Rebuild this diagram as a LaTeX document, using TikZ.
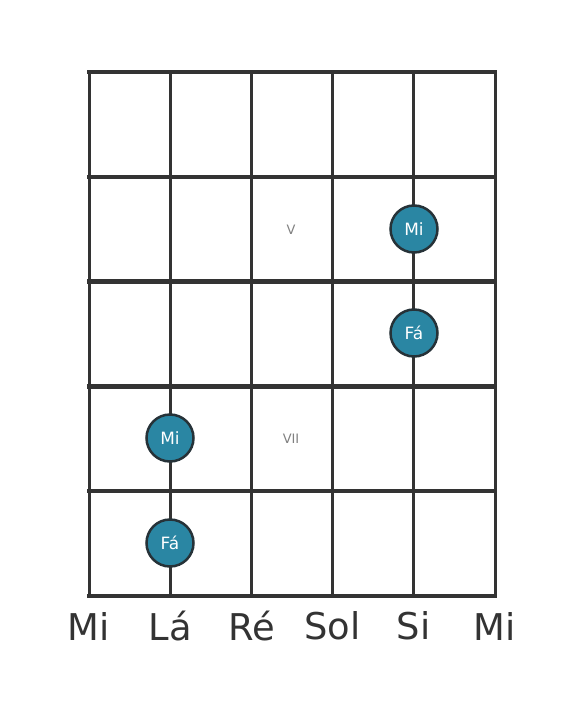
\documentclass[tikz,border=0pt]{standalone}
\usepackage{fontspec}
\setmainfont{DejaVu Sans}
\usetikzlibrary{calc}

\definecolor{GridColor}{HTML}{333333}
\definecolor{NoteFill}{HTML}{2A86A3}
\definecolor{NoteLine}{HTML}{263238}
\definecolor{FretNum}{HTML}{808080}

\tikzset{
  note/.style={circle, draw=NoteLine, line width=2.5bp, fill=NoteFill,
    minimum size=47bp, inner sep=0pt, text=white, font=\fontsize{17}{17}\selectfont},
  fretlabel/.style={text=FretNum, font=\fontsize{13}{13}\selectfont},
  stringname/.style={text=GridColor, font=\fontsize{37}{37}\selectfont}
}

\begin{document}
\begin{tikzpicture}[x=1bp,y=-1bp]
\useasboundingbox (0,0) rectangle (584,711);

\def \GridLeft {89}
\def \GridTop {72}
\def \StringGap {81.2}
\def \FretGap {104.8}

% cordes
\foreach \s in {0,...,5}{
  \coordinate (s\s top) at (\GridLeft+\s*\StringGap,\GridTop);
  \coordinate (s\s bot) at (\GridLeft+\s*\StringGap,\GridTop+5*\FretGap);
  \draw[color=GridColor, line width=3bp] (s\s top)--(s\s bot);
}
% frettes
\foreach \f in {0,...,5}{
  \coordinate (f\f left) at (\GridLeft,\GridTop+\f*\FretGap);
  \coordinate (f\f right) at (\GridLeft+5*\StringGap,\GridTop+\f*\FretGap);
  \draw[color=GridColor, line width=4.5bp, line cap=rect] (f\f left)--(f\f right);
}

% numeros de case
\node[fretlabel] (fretV) at (291,230) {V};
\node[fretlabel] (fretVII) at (291,439) {VII};

% notes
\node[note] (noteSiMi) at (414,229) {Mi};
\node[note] (noteSiFa) at (414,333) {Fá};
\node[note] (noteLaMi) at (170,438) {Mi};
\node[note] (noteLaFa) at (170,543) {Fá};

% noms des cordes
\foreach \s/\n in {0/Mi,1/Lá,2/Ré,3/Sol,4/Si,5/Mi}{
  \node[stringname] (name\s) at ($(s\s bot)+(0,30)$) {\n};
}
\end{tikzpicture}
\end{document}
